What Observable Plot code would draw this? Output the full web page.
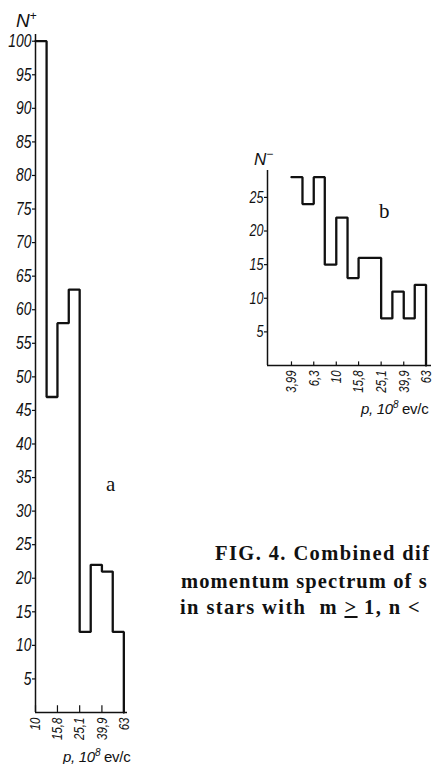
<!DOCTYPE html>
<html>
<head>
<meta charset="utf-8">
<script src="https://cdn.jsdelivr.net/npm/d3@7"></script>
<script src="https://cdn.jsdelivr.net/npm/@observablehq/plot@0.6"></script>
<style>
  html, body { margin: 0; padding: 0; background: #fff; }
  #root { position: relative; width: 433px; height: 764px; overflow: hidden; background: #fff; color: #111; }
  .abs { position: absolute; white-space: pre; line-height: 1; }
  .tick { font-family: "Liberation Sans", "DejaVu Sans", sans-serif; font-style: italic; }
  .cap { font-family: "Liberation Serif", "DejaVu Serif", serif; font-weight: bold; font-size: 20.5px; letter-spacing: 1.4px; }
  .letter { font-family: "Liberation Serif", "DejaVu Serif", serif; font-size: 21px; }
  .xlab { font-size: 15px; letter-spacing: -0.3px; }
</style>
</head>
<body>
<div id="root">
  <div id="chartA" class="abs" style="left:0;top:0"></div>
  <div id="chartB" class="abs" style="left:230px;top:140px"></div>
  <div class="abs tick" style="left:16px;top:10px;font-size:19px">N<sup style="font-size:12px;font-style:normal">+</sup></div>
  <div class="abs tick" style="left:254px;top:148px;font-size:17px">N<sup style="font-size:12px;font-style:normal">−</sup></div>
  <div class="abs letter" style="left:106px;top:474px">a</div>
  <div class="abs letter" style="left:379px;top:201px">b</div>
  <div class="abs tick xlab" style="left:63px;top:748px">p, 10<sup style="font-size:10px">8</sup> <span style="font-style:normal">ev/c</span></div>
  <div class="abs tick xlab" style="left:361px;top:400px">p, 10<sup style="font-size:10px">8</sup> <span style="font-style:normal">ev/c</span></div>
  <div class="abs cap" style="left:215px;top:543px">FIG. 4. Combined dif</div>
  <div class="abs cap" style="left:181px;top:571px;letter-spacing:1.1px">momentum spectrum of s</div>
  <div class="abs cap" style="left:180px;top:597px">in stars with  m <u>&gt;</u> 1, n &lt;</div>
</div>
<script>
// ---- data: chart a (N+) ----
const edgesA = [10, 12.6, 15.8, 20, 25.1, 31.6, 39.9, 50, 63];
const countsA = [100, 47, 58, 63, 12, 22, 21, 12];
const xTicksA = [10, 15.8, 25.1, 39.9, 63];
const xLabelsA = ["10", "15,8", "25,1", "39,9", "63"];
const yTicksA = [5, 10, 15, 20, 25, 30, 35, 40, 45, 50, 55, 60, 65, 70, 75, 80, 85, 90, 95, 100];

// ---- data: chart b (N-) ----
const edgesB = [3.99, 5.0, 6.3, 7.9, 10, 12.6, 15.8, 20, 25.1, 31.6, 39.9, 50, 63];
const countsB = [28, 24, 28, 15, 22, 13, 16, 16, 7, 11, 7, 12];
const xTicksB = [3.99, 6.3, 10, 15.8, 25.1, 39.9, 63];
const xLabelsB = ["3,99", "6,3", "10", "15,8", "25,1", "39,9", "63"];
const yTicksB = [5, 10, 15, 20, 25];

function steps(edges, counts) {
  const pts = counts.map((c, i) => ({x: edges[i], y: c}));
  const n = counts.length;
  pts.push({x: edges[n], y: counts[n - 1]});
  pts.push({x: edges[n], y: 0});
  return pts;
}

const tickFont = `"Liberation Sans", "DejaVu Sans", sans-serif`;
const ink = "#111";

function histo({edges, counts, xTicks, xLabels, yTicks, xDomain, yDomain, width, height, marginLeft, marginTop, marginBottom, marginRight, yFont, xFont}) {
  return Plot.plot({
    width, height, marginLeft, marginTop, marginBottom, marginRight,
    x: {type: "log", domain: xDomain, axis: null},
    y: {domain: yDomain, axis: null},
    style: {fontFamily: tickFont, fontStyle: "italic", color: ink, background: "transparent", overflow: "visible"},
    marks: [
      Plot.axisY(yTicks, {tickSize: 3, tickPadding: 1, fontSize: yFont, label: null, tickFormat: d => String(d), stroke: ink, strokeWidth: 1.2}),
      Plot.text(xTicks, {x: d => d, y: 0, text: d => xLabels[xTicks.indexOf(d)], rotate: -90, textAnchor: "end",
        lineAnchor: "middle", dy: 5, fontSize: xFont, fill: ink}),
      Plot.ruleX(xTicks, {y1: 0, y2: yDomain[1] * 0.0065 + 0.35, stroke: ink, strokeWidth: 1.2}),
      Plot.ruleX([xDomain[0]], {y1: 0, y2: yDomain[1], stroke: ink, strokeWidth: 1.5}),
      Plot.ruleY([0], {x1: xDomain[0], x2: xDomain[1], stroke: ink, strokeWidth: 1.5}),
      Plot.line(steps(edges, counts), {x: "x", y: "y", curve: "step-after", stroke: ink, strokeWidth: 2.3, strokeLinejoin: "miter"})
    ]
  });
}

// narrow the glyphs of the tick labels, as in the printed figure
function condense(svg, factor) {
  svg.querySelectorAll("text").forEach(t => {
    const len = t.getComputedTextLength();
    if (len > 0) {
      t.setAttribute("textLength", (len * factor).toFixed(2));
      t.setAttribute("lengthAdjust", "spacingAndGlyphs");
    }
  });
}

const svgA = histo({
  edges: edgesA, counts: countsA, xTicks: xTicksA, xLabels: xLabelsA, yTicks: yTicksA,
  xDomain: [10, 68], yDomain: [0, 101],
  width: 135, height: 764, marginLeft: 35, marginTop: 34, marginBottom: 52, marginRight: 8,
  yFont: 18, xFont: 15
});
document.getElementById("chartA").append(svgA);
condense(svgA, 0.77);

const svgB = histo({
  edges: edgesB, counts: countsB, xTicks: xTicksB, xLabels: xLabelsB, yTicks: yTicksB,
  xDomain: [2.44, 70.5], yDomain: [0, 29],
  width: 203, height: 275, marginLeft: 37, marginTop: 30, marginBottom: 50, marginRight: 2,
  yFont: 16.5, xFont: 15
});
document.getElementById("chartB").append(svgB);
condense(svgB, 0.76);
</script>
</body>
</html>
